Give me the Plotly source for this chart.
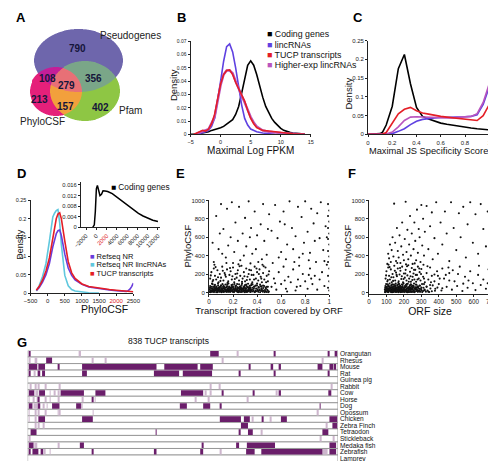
import numpy as np
import plotly.graph_objects as go

W, H = 496, 461
FONT = "Liberation Sans, Arial, Helvetica, sans-serif"


def xd(a, b):
    return [a / W, b / W]


def yd(top, bottom):
    return [1 - bottom / H, 1 - top / H]


def PX(x):
    return x / W


def PY(y):
    return 1 - y / H


# ================= DATA =================
# ---- A: Venn diagram ----
venn_set_names = ["Pseudogenes", "PhyloCSF", "Pfam"]
venn_region_names = ["Pseudo", "Pseudo&Phylo", "All", "Pseudo&Pfam", "Phylo", "Phylo&Pfam", "Pfam"]
venn_region_counts = [790, 108, 279, 356, 213, 157, 402]

# ---- B: Maximal log FPKM densities ----
fpkm_coding_x = [-5, -4.5, -4, -3.5, -3, -2.5, -2, -1.5, -1, -0.5, 0, 0.5, 1, 1.5, 2, 2.5, 3, 3.5, 4, 4.5, 5,
                 5.5, 6, 6.5, 7, 7.5, 8, 8.5, 9, 9.5, 10, 10.5, 11, 11.5, 12, 12.5, 13, 13.5, 14]
fpkm_coding_y = [0, 0, 0.0003, 0.0006, 0.001, 0.0015, 0.002, 0.003, 0.0035, 0.004, 0.005, 0.006, 0.0076, 0.009,
                 0.011, 0.015, 0.021, 0.031, 0.043, 0.052, 0.0553, 0.052, 0.045, 0.036, 0.028, 0.021, 0.016,
                 0.012, 0.009, 0.0065, 0.0045, 0.003, 0.002, 0.0015, 0.001, 0.0007, 0.0005, 0.0003, 0.0002]
fpkm_linc_x = [-4, -3.5, -3, -2.5, -2, -1.5, -1, -0.5, 0, 0.5, 1, 1.5, 2, 2.5, 3, 3.5, 4, 4.5, 5, 5.5, 6, 7, 8, 9]
fpkm_linc_y = [0, 0.0005, 0.001, 0.002, 0.003, 0.006, 0.012, 0.025, 0.04, 0.055, 0.066, 0.068, 0.062, 0.05,
               0.035, 0.022, 0.012, 0.007, 0.004, 0.003, 0.002, 0.001, 0.0003, 0]
fpkm_tucp_x = [-4.5, -4, -3.5, -3, -2.5, -2, -1.5, -1, -0.5, 0, 0.5, 1, 1.5, 2, 2.5, 3, 3.5, 4, 4.5, 5, 5.5,
               6, 6.5, 7, 8, 9, 10, 11, 12, 13, 14]
fpkm_tucp_y = [0, 0.0008, 0.002, 0.003, 0.0025, 0.004, 0.008, 0.015, 0.027, 0.038, 0.045, 0.048, 0.0485,
               0.045, 0.039, 0.034, 0.03, 0.025, 0.018, 0.012, 0.008, 0.005, 0.004, 0.003, 0.0025, 0.002,
               0.0012, 0.0008, 0.0005, 0.0003, 0]
fpkm_hexp_x = [-4, -3, -2, -1, -0.5, 0, 0.5, 1, 1.5, 2, 2.5, 3, 3.5, 4, 4.5, 5, 5.5, 6, 7, 8, 10, 12, 14]
fpkm_hexp_y = [0.0005, 0.002, 0.004, 0.013, 0.025, 0.037, 0.045, 0.048, 0.048, 0.046, 0.04, 0.034, 0.029,
               0.024, 0.018, 0.013, 0.009, 0.006, 0.003, 0.002, 0.001, 0.0004, 0]

# ---- C: Maximal JS specificity densities ----
js_x = [0, 0.05, 0.1, 0.12, 0.15, 0.2, 0.25, 0.3, 0.35, 0.4, 0.45, 0.5, 0.55, 0.6, 0.65, 0.7, 0.75, 0.8,
        0.85, 0.9, 0.95, 1.0]
js_coding = [0, 0, 0.002, 0.006, 0.025, 0.075, 0.175, 0.213, 0.135, 0.072, 0.048, 0.041, 0.035, 0.03,
             0.027, 0.024, 0.021, 0.019, 0.017, 0.015, 0.013, 0.012]
js_tucp = [0, 0, 0, 0.001, 0.005, 0.03, 0.055, 0.067, 0.072, 0.063, 0.057, 0.054, 0.05, 0.048, 0.046,
           0.044, 0.042, 0.041, 0.039, 0.037, 0.05, 0.079]
js_hexp = [0, 0, 0, 0, 0.001, 0.006, 0.02, 0.037, 0.046, 0.047, 0.046, 0.045, 0.044, 0.044, 0.044, 0.044,
           0.045, 0.046, 0.048, 0.055, 0.085, 0.135]
js_linc = [0, 0, 0, 0, 0, 0.002, 0.008, 0.015, 0.026, 0.035, 0.04, 0.043, 0.044, 0.045, 0.045, 0.046,
           0.047, 0.047, 0.048, 0.052, 0.08, 0.126]

# ---- D: PhyloCSF densities ----
phylo_nrlinc_x = [-330, -250, -150, -50, 50, 150, 200, 250, 300, 350, 400, 450, 500, 600, 700, 800, 1000, 1200, 1500]
phylo_nrlinc_y = [0.006, 0.02, 0.045, 0.08, 0.14, 0.205, 0.215, 0.222, 0.225, 0.19, 0.13, 0.08, 0.048, 0.02,
                  0.01, 0.006, 0.003, 0.0015, 0.0005]
phylo_tucp_x = [-330, -250, -150, -50, 50, 150, 250, 300, 350, 400, 450, 500, 600, 700, 800, 1000, 1200, 1500,
                1800, 2000, 2200, 2500]
phylo_tucp_y = [0.008, 0.018, 0.035, 0.06, 0.095, 0.15, 0.2, 0.213, 0.216, 0.2, 0.175, 0.14, 0.085, 0.055,
                0.04, 0.025, 0.018, 0.013, 0.01, 0.008, 0.006, 0.004]
phylo_nr_x = [-330, -250, -150, -50, 50, 150, 250, 300, 350, 400, 450, 500, 600, 700, 800, 1000, 1200, 1500,
              1800, 2000, 2200, 2300, 2350, 2400, 2450, 2500]
phylo_nr_y = [0.008, 0.015, 0.03, 0.05, 0.08, 0.125, 0.16, 0.168, 0.17, 0.155, 0.13, 0.105, 0.068, 0.048,
              0.036, 0.024, 0.017, 0.012, 0.009, 0.007, 0.005, 0.005, 0.007, 0.011, 0.018, 0.027]
# inset: coding genes
phylo_coding_x = [-700, -400, -200, 0, 200, 400, 700, 1000, 1300, 1700, 2200, 3100, 4400, 5300, 6300, 7200,
                  8200, 9100, 10100, 11000, 12000]
phylo_coding_y = [0, 0.001, 0.006, 0.0145, 0.0158, 0.0145, 0.012, 0.0125, 0.0138, 0.0137, 0.0135, 0.0127,
                  0.0108, 0.0093, 0.0078, 0.0065, 0.0053, 0.0043, 0.0034, 0.0027, 0.0022]
inset_ticks = [-2000, 0, 2000, 4000, 6000, 8000, 10000, 12000]
main_d_ticks = [-500, 0, 500, 1000, 1500, 2000, 2500]

# ---- E: transcript fraction covered by ORF vs PhyloCSF ----
e_bottom = [(0.005, 5), (0.012, 22), (0.02, 40), (0.027, 12), (0.035, 30), (0.042, 3), (0.05, 45), (0.057, 18),
            (0.065, 33), (0.072, 8), (0.08, 25), (0.088, 42), (0.095, 15), (0.103, 2), (0.11, 35), (0.118, 20),
            (0.125, 47), (0.133, 10), (0.14, 28), (0.148, 4), (0.155, 38), (0.163, 16), (0.17, 26), (0.178, 6),
            (0.185, 44), (0.193, 14), (0.2, 31), (0.208, 3), (0.215, 22), (0.223, 40), (0.23, 9), (0.238, 27),
            (0.245, 17), (0.253, 36), (0.26, 5), (0.268, 24), (0.275, 12), (0.283, 43), (0.29, 19), (0.298, 2),
            (0.305, 32), (0.313, 14), (0.32, 7), (0.328, 26), (0.335, 38), (0.343, 4), (0.35, 18), (0.358, 29),
            (0.365, 10), (0.373, 41), (0.38, 3), (0.388, 21), (0.395, 13), (0.403, 34), (0.41, 6), (0.418, 24),
            (0.425, 2), (0.433, 16), (0.44, 30), (0.448, 8), (0.455, 20), (0.463, 3), (0.47, 12), (0.478, 5),
            (0.485, 27), (0.493, 2), (0.498, 9), (0.016, 12), (0.045, 24), (0.07, 38), (0.09, 6), (0.12, 14),
            (0.15, 22), (0.18, 33), (0.21, 12), (0.24, 6), (0.27, 35), (0.3, 20), (0.06, 2), (0.16, 8)]
e_dense = [(0.004, 30), (0.011, 55), (0.019, 18), (0.026, 44), (0.033, 6), (0.041, 36), (0.048, 58), (0.056, 26),
           (0.063, 42), (0.071, 2), (0.078, 52), (0.086, 34), (0.093, 20), (0.101, 48), (0.108, 24), (0.116, 58),
           (0.123, 4), (0.131, 40), (0.138, 12), (0.146, 54), (0.153, 30), (0.161, 46), (0.168, 8), (0.176, 38),
           (0.183, 26), (0.191, 52), (0.198, 6), (0.206, 42), (0.213, 30), (0.221, 56), (0.228, 16), (0.236, 38),
           (0.243, 2), (0.251, 46), (0.258, 28), (0.266, 54), (0.273, 4), (0.281, 36), (0.288, 50), (0.296, 22),
           (0.303, 10), (0.311, 42), (0.318, 56), (0.326, 18), (0.333, 48), (0.341, 24), (0.348, 8), (0.014, 2),
           (0.029, 26), (0.044, 14), (0.059, 38), (0.074, 16), (0.089, 56), (0.104, 12), (0.119, 42), (0.134, 26),
           (0.149, 16), (0.164, 36), (0.179, 50), (0.194, 24), (0.209, 10), (0.224, 32), (0.239, 52), (0.254, 14),
           (0.269, 40), (0.284, 26), (0.299, 48), (0.314, 4), (0.329, 36), (0.344, 52)]
e_low = [(0.01, 70), (0.025, 95), (0.038, 58), (0.05, 82), (0.062, 64), (0.075, 99), (0.087, 55), (0.1, 76),
         (0.112, 90), (0.125, 60), (0.137, 85), (0.15, 68), (0.162, 97), (0.175, 53), (0.187, 79), (0.2, 63),
         (0.212, 92), (0.225, 71), (0.237, 56), (0.25, 88), (0.262, 66), (0.275, 98), (0.287, 59), (0.3, 80),
         (0.312, 69), (0.325, 94), (0.337, 54), (0.35, 77), (0.362, 87), (0.375, 62), (0.387, 73), (0.4, 96),
         (0.412, 57), (0.425, 84), (0.437, 65), (0.45, 74), (0.47, 52), (0.49, 61)]
e_extra = [(0.008, 48), (0.018, 8), (0.024, 62), (0.031, 88), (0.038, 20), (0.046, 72), (0.053, 34), (0.061, 52),
           (0.068, 14), (0.076, 78), (0.083, 46), (0.091, 28), (0.098, 66), (0.106, 38), (0.114, 8), (0.121, 74),
           (0.129, 32), (0.136, 52), (0.144, 18), (0.152, 88), (0.159, 42), (0.167, 64), (0.174, 22), (0.182, 12),
           (0.189, 58), (0.197, 84), (0.204, 46), (0.212, 16), (0.219, 70), (0.227, 28), (0.234, 90), (0.242, 48),
           (0.249, 8), (0.257, 62), (0.264, 40), (0.272, 80), (0.279, 32), (0.287, 10), (0.294, 68), (0.302, 44),
           (0.309, 86), (0.317, 24), (0.324, 58), (0.332, 12), (0.339, 72), (0.347, 36), (0.354, 90), (0.362, 50),
           (0.369, 22), (0.377, 64), (0.384, 8), (0.392, 42), (0.399, 76), (0.407, 18), (0.414, 52), (0.422, 30),
           (0.429, 66), (0.436, 44), (0.444, 14), (0.451, 48), (0.459, 70), (0.466, 26), (0.474, 40), (0.481, 60),
           (0.489, 18)]
e_mid = [(0.01, 150), (0.02, 220), (0.03, 120), (0.04, 260), (0.05, 180), (0.06, 140), (0.07, 240), (0.08, 110),
         (0.09, 200), (0.1, 160), (0.11, 280), (0.12, 130), (0.13, 210), (0.14, 170), (0.15, 250), (0.16, 120),
         (0.17, 190), (0.18, 230), (0.19, 140), (0.2, 270), (0.21, 110), (0.22, 200), (0.23, 160), (0.24, 240),
         (0.25, 130), (0.26, 180), (0.27, 290), (0.28, 150), (0.29, 220), (0.3, 120), (0.31, 260), (0.32, 170),
         (0.33, 200), (0.34, 140), (0.35, 240), (0.36, 110), (0.37, 190), (0.38, 280), (0.39, 150), (0.4, 220),
         (0.41, 130), (0.42, 250), (0.43, 170), (0.44, 110), (0.45, 210), (0.46, 140), (0.47, 270), (0.48, 180),
         (0.49, 120), (0.5, 230)]
e_mid2 = [(0.015, 185), (0.035, 135), (0.055, 275), (0.075, 165), (0.095, 125), (0.115, 235), (0.135, 190),
          (0.155, 105), (0.175, 265), (0.195, 175), (0.215, 145), (0.235, 205), (0.255, 285), (0.275, 115),
          (0.295, 175), (0.315, 135), (0.335, 245), (0.355, 190), (0.375, 140), (0.395, 260), (0.415, 200),
          (0.435, 150), (0.455, 285), (0.475, 110), (0.495, 195), (0.045, 300), (0.145, 320), (0.245, 305),
          (0.345, 315), (0.445, 300)]
e_right_low = [(0.52, 60), (0.54, 150), (0.56, 30), (0.58, 220), (0.6, 90), (0.62, 280), (0.64, 40), (0.66, 170),
               (0.68, 110), (0.7, 250), (0.72, 20), (0.74, 140), (0.76, 70), (0.78, 200), (0.8, 120), (0.82, 40),
               (0.84, 260), (0.86, 90), (0.88, 180), (0.9, 30), (0.92, 140), (0.94, 220), (0.96, 70), (0.55, 100),
               (0.65, 10), (0.75, 290), (0.85, 150), (0.63, 130), (0.73, 60), (0.83, 190)]
e_upper = [(0.03, 540), (0.06, 830), (0.08, 470), (0.1, 960), (0.12, 690), (0.14, 380), (0.15, 910), (0.18, 600),
           (0.19, 980), (0.21, 440), (0.22, 760), (0.25, 930), (0.26, 350), (0.28, 640), (0.3, 810), (0.31, 500),
           (0.33, 990), (0.35, 700), (0.36, 420), (0.38, 880), (0.4, 620), (0.41, 330), (0.43, 740), (0.45, 960),
           (0.46, 560), (0.48, 410), (0.5, 850), (0.52, 670), (0.53, 320), (0.55, 950), (0.57, 590), (0.59, 770),
           (0.6, 440), (0.62, 880), (0.64, 360), (0.65, 520), (0.67, 990), (0.69, 700), (0.7, 470), (0.72, 610),
           (0.74, 930), (0.75, 380), (0.77, 820), (0.79, 540), (0.8, 990), (0.82, 660), (0.84, 430), (0.85, 910),
           (0.87, 750), (0.89, 330), (0.9, 860), (0.92, 590), (0.93, 980), (0.95, 460), (0.97, 720), (0.04, 330),
           (0.09, 640), (0.11, 420), (0.16, 510), (0.2, 320), (0.24, 560), (0.29, 400), (0.34, 600), (0.39, 470),
           (0.44, 360), (0.49, 690), (0.58, 380), (0.63, 740), (0.71, 330), (0.78, 420), (0.83, 350), (0.88, 560),
           (0.96, 340)]
e_edge = [(0.99, 50), (1.0, 120), (0.99, 180), (1.0, 260), (0.99, 330), (1.0, 390), (0.99, 450), (1.0, 520),
          (0.99, 580), (1.0, 640), (0.99, 700), (1.0, 770), (0.99, 830), (1.0, 890), (0.99, 960), (0.98, 300),
          (0.98, 600), (1.0, 20)]

# ---- F: ORF size vs PhyloCSF ----
f_bottom = [(92, 5), (96, 25), (100, 42), (104, 12), (108, 33), (112, 3), (116, 20), (120, 46), (124, 9), (128, 29),
            (132, 16), (136, 38), (140, 4), (144, 24), (148, 13), (152, 44), (156, 7), (160, 31), (164, 19),
            (168, 2), (172, 36), (176, 11), (180, 27), (184, 41), (188, 6), (192, 22), (196, 15), (200, 34),
            (205, 3), (210, 26), (215, 10), (220, 39), (225, 17), (230, 5), (235, 30), (240, 13), (245, 45),
            (250, 8), (255, 23), (260, 2), (265, 35), (270, 14), (275, 28), (280, 6), (285, 19), (290, 40),
            (295, 9), (300, 25), (305, 3), (310, 16), (318, 31), (326, 7), (335, 20), (345, 4), (360, 12),
            (94, 15), (102, 30), (110, 8), (118, 36), (126, 18), (134, 2), (142, 14), (150, 27), (158, 40),
            (166, 10), (174, 22), (182, 3), (190, 32), (198, 12), (208, 20), (218, 2), (228, 28), (238, 8)]
f_dense = [(91, 30), (95, 55), (99, 18), (103, 44), (107, 6), (111, 36), (115, 58), (119, 26), (123, 42), (127, 2),
           (131, 52), (135, 34), (139, 20), (143, 48), (147, 24), (151, 58), (155, 4), (159, 40), (163, 12), (167, 54),
           (171, 30), (175, 46), (179, 8), (183, 38), (187, 26), (191, 52), (195, 6), (199, 42), (203, 30), (207, 56),
           (212, 16), (217, 38), (222, 2), (227, 46), (232, 28), (237, 54), (242, 4), (247, 36), (252, 50), (257, 22),
           (262, 10), (267, 42), (272, 56), (277, 18), (282, 48), (287, 24), (292, 8), (93, 2), (98, 26), (106, 14),
           (114, 38), (122, 16), (130, 56), (138, 12), (146, 42), (154, 26), (162, 16), (170, 36), (178, 50),
           (186, 24), (194, 10), (202, 32), (210, 52), (220, 14), (230, 40), (240, 26), (250, 48), (260, 4),
           (270, 36), (280, 52)]
f_low = [(94, 70), (98, 90), (103, 58), (108, 82), (113, 64), (118, 97), (123, 55), (128, 76), (133, 88), (138, 61),
         (143, 85), (148, 69), (153, 95), (158, 53), (163, 79), (168, 63), (173, 92), (178, 71), (183, 57),
         (188, 86), (193, 66), (198, 99), (204, 59), (210, 80), (216, 68), (222, 93), (228, 54), (234, 77),
         (240, 87), (246, 62), (252, 73), (258, 96), (265, 56), (272, 83), (280, 65), (290, 75), (300, 52),
         (315, 90), (330, 60), (350, 80)]
f_extra = [(93, 48), (97, 8), (101, 62), (105, 88), (109, 20), (113, 72), (117, 34), (121, 52), (125, 14), (129, 78),
           (133, 46), (137, 28), (141, 66), (145, 38), (149, 8), (153, 74), (157, 32), (161, 52), (165, 18), (169, 88),
           (173, 42), (177, 64), (181, 22), (185, 12), (189, 58), (193, 84), (197, 46), (201, 16), (206, 70),
           (211, 28), (216, 90), (221, 48), (226, 8), (231, 62), (236, 40), (241, 80), (246, 32), (251, 10),
           (256, 68), (262, 44), (268, 86), (274, 24), (280, 58), (286, 12), (292, 72), (298, 36), (304, 90),
           (312, 50), (320, 22), (330, 64), (340, 8), (352, 42), (365, 76), (378, 18), (392, 52)]
f_mid = [(95, 150), (100, 230), (105, 120), (110, 270), (115, 180), (120, 140), (125, 250), (130, 110), (135, 200),
         (140, 165), (145, 290), (150, 130), (155, 215), (160, 175), (165, 260), (170, 120), (175, 195), (180, 235),
         (185, 145), (190, 280), (195, 110), (200, 205), (205, 160), (210, 245), (215, 130), (220, 185), (225, 295),
         (230, 150), (235, 225), (240, 115), (245, 265), (250, 170), (255, 205), (260, 140), (265, 245), (270, 115),
         (275, 190), (280, 280), (285, 150), (290, 220), (295, 130), (300, 255), (310, 170), (320, 110), (330, 210),
         (340, 140), (350, 270), (360, 180), (375, 120), (390, 230), (405, 150), (420, 260), (440, 190), (460, 130),
         (480, 240)]
f_mid2 = [(98, 185), (108, 135), (118, 275), (128, 165), (138, 125), (148, 235), (158, 190), (168, 105), (178, 265),
          (188, 175), (198, 145), (208, 205), (218, 285), (228, 115), (238, 175), (248, 135), (258, 245), (268, 190),
          (278, 140), (288, 260), (298, 200), (315, 150), (335, 285), (355, 110), (375, 195), (112, 300), (162, 320),
          (212, 305), (262, 315), (312, 300)]
f_right_low = [(380, 40), (400, 90), (415, 20), (430, 150), (445, 60), (460, 210), (475, 30), (490, 120), (505, 70),
               (520, 280), (535, 15), (550, 170), (565, 50), (580, 230), (595, 100), (610, 25), (625, 190), (640, 80),
               (655, 140), (670, 40), (685, 250), (695, 10), (395, 180), (455, 270), (510, 200), (570, 130),
               (630, 290), (680, 100), (420, 45), (540, 95)]
f_upper = [(105, 310), (110, 420), (115, 370), (120, 520), (125, 330), (130, 460), (135, 600), (140, 390), (144, 965),
           (150, 540), (155, 340), (160, 700), (165, 450), (170, 380), (175, 620), (180, 320), (185, 500), (190, 760),
           (195, 410), (200, 350), (205, 580), (210, 985), (215, 440), (220, 680), (225, 360), (230, 520), (235, 830),
           (240, 400), (245, 640), (250, 310), (255, 470), (260, 760), (265, 560), (270, 350), (275, 900), (280, 430),
           (285, 690), (290, 600), (295, 330), (300, 950), (305, 510), (310, 800), (315, 400), (320, 660), (330, 940),
           (340, 470), (350, 720), (360, 870), (365, 360), (375, 590), (385, 980), (395, 420), (410, 760), (420, 520),
           (435, 880), (445, 640), (460, 340), (470, 980), (485, 700), (500, 460), (515, 860), (525, 600), (540, 930),
           (555, 380), (565, 740), (580, 980), (595, 540), (610, 850), (625, 420), (640, 960), (655, 690), (670, 500),
           (680, 880), (695, 360)]

# ---- G: conservation of 838 TUCP transcripts (intervals in transcript index) ----
n_transcripts = 838
species = ["Orangutan", "Rhesus", "Mouse", "Rat", "Guinea pig", "Rabbit", "Cow", "Horse", "Dog", "Opossum",
           "Chicken", "Zebra Finch", "Tetraodon", "Stickleback", "Medaka fish", "Zebrafish", "Lamprey"]
cons_strong = {
    "Orangutan": [(3, 8), (493, 516), (665, 669), (811, 815), (831, 836)],
    "Rhesus": [(50, 66)],
    "Mouse": [(3, 26), (29, 47), (81, 86), (147, 348), (369, 459), (466, 500), (597, 600), (658, 663), (679, 684),
              (783, 796), (815, 825), (828, 833)],
    "Rat": [(3, 8), (29, 34), (39, 47), (147, 160), (341, 409), (419, 498), (571, 574), (665, 668), (812, 815)],
    "Guinea pig": [],
    "Rabbit": [],
    "Cow": [(3, 18), (31, 47), (89, 152), (183, 210), (414, 474), (524, 527), (610, 613), (679, 684), (812, 820)],
    "Horse": [(29, 31), (173, 176)],
    "Dog": [(3, 13), (29, 34), (66, 86), (131, 144), (411, 430), (474, 493), (521, 524), (789, 791)],
    "Opossum": [],
    "Chicken": [(29, 47), (147, 176), (519, 576), (584, 600), (634, 637), (684, 700), (815, 836)],
    "Zebra Finch": [(576, 595), (823, 836)],
    "Tetraodon": [(8, 24), (346, 348), (571, 574), (595, 608), (796, 812)],
    "Stickleback": [],
    "Medaka fish": [(3, 16), (141, 152), (472, 474), (563, 571), (592, 668), (815, 833)],
    "Zebrafish": [(3, 8), (13, 29), (37, 42), (173, 178), (341, 348), (466, 474), (590, 613), (631, 796),
                  (815, 833)],
    "Lamprey": [],
}
cons_weak = {
    "Orangutan": [(139, 144), (566, 568)],
    "Rhesus": [(3, 8), (21, 26), (173, 176), (210, 213), (524, 527), (794, 797)],
    "Mouse": [],
    "Rat": [(18, 21)],
    "Guinea pig": [],
    "Rabbit": [(8, 10), (21, 24), (29, 31), (47, 50), (86, 89), (493, 496), (516, 519), (820, 823)],
    "Cow": [(21, 29), (60, 62), (71, 73), (81, 84), (479, 482), (493, 496), (671, 674)],
    "Horse": [(3, 5), (16, 18), (26, 28), (47, 50), (60, 62), (81, 84), (147, 149), (181, 183), (453, 456),
              (487, 490), (592, 595)],
    "Dog": [(16, 26), (42, 44), (52, 54), (144, 147)],
    "Opossum": [(3, 5), (21, 23), (29, 31), (47, 49), (81, 83), (86, 88), (176, 178), (783, 786)],
    "Chicken": [(3, 5), (21, 23), (606, 608), (655, 658)],
    "Zebra Finch": [(21, 23), (29, 31), (42, 44), (805, 810)],
    "Tetraodon": [(631, 634)],
    "Stickleback": [(3, 6), (791, 794), (825, 828)],
    "Medaka fish": [(18, 26), (81, 84)],
    "Zebrafish": [(44, 47), (60, 62), (521, 524), (796, 810)],
    "Lamprey": [],
}

# ================= STYLE =================
C_BLACK = "#000000"
C_LINC = "rgb(95,65,225)"
C_TUCP = "rgb(228,30,38)"
C_HEXP = "rgb(185,85,190)"
C_CYAN = "rgb(95,200,222)"
C_NR = "rgb(105,60,220)"
C_PURPLE = "#6a1e6a"
C_PALE = "#cdb6cd"


def ax(fs=6, **kw):
    base = dict(showline=True, linecolor="#222", linewidth=1, ticks="outside", ticklen=2, tickwidth=1,
                tickcolor="#222", showgrid=False, zeroline=False,
                tickfont=dict(size=fs, color="#222", family=FONT))
    base.update(kw)
    return base


fig = go.Figure()

# ---- A: Venn (raster of ellipse membership) ----
S = 3
VW, VH = 150, 125
xs = (np.arange(VW * S) + 0.5) / S
ys = (np.arange(VH * S) + 0.5) / S
X, Y = np.meshgrid(xs, ys)


def inside(cx, cy, rx, ry):
    return ((X - cx) / rx) ** 2 + ((Y - cy) / ry) ** 2 <= 1


inP = inside(64.5, 50, 45.5, 32)
inC = inside(41, 82, 27, 25)
inF = inside(71, 81.5, 36, 30.5)
code = inP.astype(int) * 1 + inC.astype(int) * 2 + inF.astype(int) * 4
palette = np.array([
    [255, 255, 255],  # none
    [110, 102, 172],  # Pseudogenes only
    [229, 32, 122],   # PhyloCSF only
    [196, 30, 152],   # Pseudo & Phylo
    [142, 198, 68],   # Pfam only
    [122, 166, 136],  # Pseudo & Pfam
    [242, 160, 60],   # Phylo & Pfam
    [232, 112, 118],  # all three
], dtype=float)
rgb = palette[code]
img = rgb.reshape(VH, S, VW, S, 3).mean(axis=(1, 3)).round().astype(np.uint8)
fig.add_trace(go.Image(z=img.tolist(), x0=0.5, dx=1, y0=0.5, dy=1, xaxis="x8", yaxis="y8", hoverinfo="skip"))

venn_text_pos = [(63, 38), (32, 68), (52, 76), (80, 69), (24, 90), (51, 97), (87, 98)]
annotations = []
for (tx, ty), cnt in zip(venn_text_pos, venn_region_counts):
    annotations.append(dict(x=tx, y=ty, xref="x8", yref="y8", text=f"<b>{cnt}</b>", showarrow=False,
                            xanchor="center", yanchor="middle",
                            font=dict(size=10, color="#15153a", family=FONT)))
venn_name_pos = [(118, 24), (27, 113), (118, 101)]
for (tx, ty), name in zip(venn_name_pos, venn_set_names):
    annotations.append(dict(x=tx, y=ty, xref="x8", yref="y8", text=name, showarrow=False, xanchor="center",
                            yanchor="middle", font=dict(size=10, color="#222", family=FONT)))

# ---- B ----
fig.add_trace(go.Scatter(x=fpkm_coding_x, y=fpkm_coding_y, mode="lines", line=dict(color=C_BLACK, width=1.6),
                         xaxis="x", yaxis="y", name="Coding genes"))
fig.add_trace(go.Scatter(x=fpkm_linc_x, y=fpkm_linc_y, mode="lines", line=dict(color=C_LINC, width=1.6),
                         xaxis="x", yaxis="y", name="lincRNAs"))
fig.add_trace(go.Scatter(x=fpkm_hexp_x, y=fpkm_hexp_y, mode="lines", line=dict(color=C_HEXP, width=2.4),
                         xaxis="x", yaxis="y", name="Higher-exp lincRNAs"))
fig.add_trace(go.Scatter(x=fpkm_tucp_x, y=fpkm_tucp_y, mode="lines", line=dict(color=C_TUCP, width=1.6),
                         xaxis="x", yaxis="y", name="TUCP transcripts"))

# ---- C ----
fig.add_trace(go.Scatter(x=js_x, y=js_coding, mode="lines", line=dict(color=C_BLACK, width=1.6),
                         xaxis="x2", yaxis="y2", name="Coding genes"))
fig.add_trace(go.Scatter(x=js_x, y=js_linc, mode="lines", line=dict(color=C_LINC, width=1.6),
                         xaxis="x2", yaxis="y2", name="lincRNAs"))
fig.add_trace(go.Scatter(x=js_x, y=js_hexp, mode="lines", line=dict(color=C_HEXP, width=1.6),
                         xaxis="x2", yaxis="y2", name="Higher-exp lincRNAs"))
fig.add_trace(go.Scatter(x=js_x, y=js_tucp, mode="lines", line=dict(color=C_TUCP, width=1.6),
                         xaxis="x2", yaxis="y2", name="TUCP transcripts"))

# ---- D ----
fig.add_trace(go.Scatter(x=phylo_nrlinc_x, y=phylo_nrlinc_y, mode="lines", line=dict(color=C_CYAN, width=1.6),
                         xaxis="x3", yaxis="y3", name="Refseq NR lincRNAs"))
fig.add_trace(go.Scatter(x=phylo_nr_x, y=phylo_nr_y, mode="lines", line=dict(color=C_NR, width=1.6),
                         xaxis="x3", yaxis="y3", name="Refseq NR"))
fig.add_trace(go.Scatter(x=phylo_tucp_x, y=phylo_tucp_y, mode="lines", line=dict(color=C_TUCP, width=1.6),
                         xaxis="x3", yaxis="y3", name="TUCP transcripts"))
fig.add_trace(go.Scatter(x=phylo_coding_x, y=phylo_coding_y, mode="lines", line=dict(color=C_BLACK, width=1.5),
                         xaxis="x4", yaxis="y4", name="Coding genes"))


# ---- E, F ----
def unzip(*groups):
    xs_, ys_ = [], []
    for g in groups:
        for a, b in g:
            xs_.append(a)
            ys_.append(b)
    return xs_, ys_


ex, ey = unzip(e_bottom, e_dense, e_low, e_extra, e_mid, e_mid2, e_right_low, e_upper, e_edge)
fx, fy = unzip(f_bottom, f_dense, f_low, f_extra, f_mid, f_mid2, f_right_low, f_upper)
fig.add_trace(go.Scatter(x=ex, y=ey, mode="markers", marker=dict(color="#111", size=2.1, line=dict(width=0)),
                         xaxis="x5", yaxis="y5", name="TUCP"))
fig.add_trace(go.Scatter(x=fx, y=fy, mode="markers", marker=dict(color="#111", size=2.1, line=dict(width=0)),
                         xaxis="x6", yaxis="y6", name="TUCP"))

# ---- G ----
fig.add_trace(go.Bar(y=species, x=[n_transcripts] * len(species), base=[0] * len(species), orientation="h",
                     width=1, marker=dict(color="white", line=dict(color="#8a8a8a", width=0.8)),
                     xaxis="x7", yaxis="y7", hoverinfo="skip"))
for table, color, wid in [(cons_weak, C_PALE, 0.86), (cons_strong, C_PURPLE, 0.86)]:
    ys_, bs_, ls_ = [], [], []
    for sp in species:
        for a, b in table[sp]:
            ys_.append(sp)
            bs_.append(a)
            ls_.append(b - a)
    fig.add_trace(go.Bar(y=ys_, x=ls_, base=bs_, orientation="h", width=wid,
                         marker=dict(color=color, line=dict(width=0)), xaxis="x7", yaxis="y7"))


def red2000(ticks):
    out = []
    for t in ticks:
        s = str(t).replace("-", "\u2212")
        out.append("<span style='color:#e0201e'>%s</span>" % s if t == 2000 else s)
    return out


# ================= LAYOUT =================
layout = dict(
    width=W, height=H, margin=dict(l=0, r=0, t=0, b=0), paper_bgcolor="white", plot_bgcolor="rgba(0,0,0,0)",
    showlegend=False, barmode="overlay", font=dict(family=FONT, color="#111"),
    # B
    xaxis=ax(5.5, domain=xd(180, 304), range=[-5, 15], tickvals=[-5, 0, 5, 10, 15], anchor="y",
             title=dict(text="Maximal Log FPKM", font=dict(size=10, color="#111", family=FONT), standoff=0)),
    yaxis=ax(5, domain=yd(30, 125), range=[0, 0.0705], tickvals=[0, 0.01, 0.02, 0.03, 0.04, 0.05, 0.06, 0.07],
             anchor="x"),
    # C
    xaxis2=ax(6, domain=xd(363, 488), range=[0, 1], tickvals=[0, 0.2, 0.4, 0.6, 0.8, 1], anchor="y2",
              title=dict(text="Maximal JS Specificity Score", font=dict(size=9.3, color="#111", family=FONT),
                         standoff=0)),
    yaxis2=ax(6, domain=yd(30, 125), range=[0, 0.25], tickvals=[0, 0.05, 0.1, 0.15, 0.2, 0.25], anchor="x2"),
    # D main
    xaxis3=ax(6, domain=xd(15, 121), range=[-500, 2500], tickvals=main_d_ticks, anchor="y3",
              ticktext=red2000(main_d_ticks)),
    yaxis3=ax(5.5, domain=yd(191.7, 286), range=[0, 0.25], tickvals=[0, 0.05, 0.1, 0.15, 0.2, 0.25], anchor="x3"),
    # D inset
    xaxis4=ax(5.8, domain=xd(67, 149), range=[-3000, 12500], tickvals=inset_ticks, anchor="y4", tickangle=-45,
              ticktext=red2000(inset_ticks)),
    yaxis4=ax(5.8, domain=yd(173.5, 219.3), range=[0, 0.017], tickvals=[0, 0.004, 0.008, 0.012, 0.016],
              anchor="x4"),
    # E
    xaxis5=ax(6.3, domain=xd(199, 323), range=[0, 1.0], tickvals=[0, 0.2, 0.4, 0.6, 0.8, 1], anchor="y5",
              title=dict(text="Transcript fraction covered by ORF", font=dict(size=9.5, color="#111", family=FONT),
                         standoff=0)),
    yaxis5=ax(6, domain=yd(191, 286.5), range=[-15, 1010], tickvals=[0, 200, 400, 600, 800, 1000], anchor="x5"),
    # F
    xaxis6=ax(6.3, domain=xd(364, 490), range=[0, 700], tickvals=[0, 100, 200, 300, 400, 500, 600, 700],
              anchor="y6",
              title=dict(text="ORF size", font=dict(size=10.5, color="#111", family=FONT), standoff=0)),
    yaxis6=ax(6, domain=yd(191, 286.5), range=[-15, 1010], tickvals=[0, 200, 400, 600, 800, 1000], anchor="x6"),
    # G
    xaxis7=dict(domain=xd(12, 332), range=[0, n_transcripts], visible=False, anchor="y7", fixedrange=True),
    yaxis7=dict(domain=yd(344, 456.5), range=[len(species) - 0.5, -0.5], anchor="x7", side="right",
                type="category", categoryorder="array", categoryarray=species, tickmode="array",
                tickvals=species, ticktext=species, showline=False, showgrid=False,
                zeroline=False, ticks="", ticklabelstandoff=1, tickfont=dict(size=6.6, color="#111", family=FONT)),
    # A venn canvas
    xaxis8=dict(domain=xd(0, VW), range=[0, VW], visible=False, anchor="y8", fixedrange=True),
    yaxis8=dict(domain=yd(0, VH), range=[VH, 0], visible=False, anchor="x8", fixedrange=True),
)

# panel letters
for letter, lx, ly in [("A", 5, 7), ("B", 171, 7), ("C", 353, 7), ("D", 6, 165), ("E", 170, 165),
                       ("F", 346, 165), ("G", 6, 336)]:
    annotations.append(dict(x=PX(lx), y=PY(ly), xref="paper", yref="paper", text=f"<b>{letter}</b>",
                            xanchor="center", yanchor="middle",
                            showarrow=False, font=dict(size=13, color="#000", family=FONT)))

# y-axis titles
for (tx, ty, txt, fs) in [(162, 75, "Density", 9.5), (343, 84, "Density", 9.5), (4, 236, "Density", 9),
                          (177, 238, "PhyloCSF", 9.5), (342, 238, "PhyloCSF", 9.5)]:
    annotations.append(dict(x=PX(tx), y=PY(ty), xref="paper", yref="paper", text=txt, textangle=-90,
                            xanchor="center", yanchor="middle", showarrow=False,
                            font=dict(size=fs, color="#111", family=FONT)))


# legends (square glyph + label)
def legend_item(x, y, color, label, size):
    return dict(x=PX(x), y=PY(y), xref="paper", yref="paper", xanchor="left", yanchor="middle",
                text=f"<span style='color:{color}'>\u25A0</span> {label}", showarrow=False, borderpad=0,
                font=dict(size=size, color="#111", family=FONT))


for (lbl, col, yy) in [("Coding genes", C_BLACK, 23.5), ("lincRNAs", C_LINC, 34), ("TUCP transcripts", C_TUCP, 44.5),
                       ("Higher-exp lincRNAs", C_HEXP, 55)]:
    annotations.append(legend_item(258, yy, col, lbl, 8.8))
for (lbl, col, yy) in [("Refseq NR", C_NR, 248.5), ("Refseq NR lincRNAs", C_CYAN, 257),
                       ("TUCP transcripts", C_TUCP, 265.5)]:
    annotations.append(legend_item(75, yy, col, lbl, 7.5))
annotations.append(legend_item(97, 178, C_BLACK, "Coding genes", 8.3))
# D x title
annotations.append(dict(x=PX(91), y=PY(302), xref="paper", yref="paper", text="PhyloCSF", showarrow=False,
                        xanchor="center", yanchor="middle", font=dict(size=10.5, color="#111", family=FONT)))
# G title
annotations.append(dict(x=PX(157), y=PY(334), xref="paper", yref="paper", text="838 TUCP transcripts",
                        xanchor="center", yanchor="middle",
                        showarrow=False, font=dict(size=8.5, color="#111", family=FONT)))

layout["annotations"] = annotations
fig.update_layout(**layout)
fig.write_html("out.html")
